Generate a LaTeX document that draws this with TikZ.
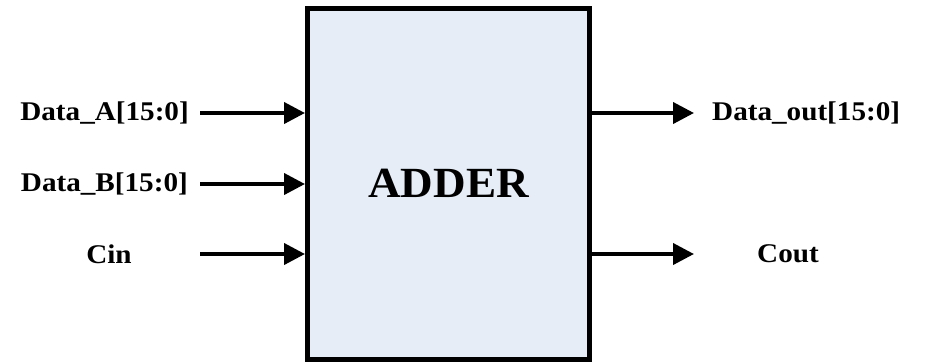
\documentclass[tikz,border=0pt]{standalone}
\usepackage{fontspec}
\setmainfont{Liberation Serif}
\newfontfamily\portfont[FakeStretch=1.08]{Liberation Serif}
\newfontfamily\blockfont[FakeStretch=1.05]{Liberation Serif}
\usetikzlibrary{arrows.meta}
\definecolor{blockfill}{RGB}{230,237,247}
\begin{document}
\begin{tikzpicture}[x=1pt,y=-1pt,
  block/.style={draw=black,line width=5pt,fill=blockfill,rectangle,
    minimum width=282pt,minimum height=351pt,inner sep=0pt,
    font=\blockfont\fontsize{43}{45}\selectfont\bfseries},
  port/.style={font=\portfont\fontsize{27}{29}\selectfont\bfseries,inner sep=0pt},
  sig/.style={line width=4pt,-{Triangle[length=21pt,width=21pt]}}]
  \useasboundingbox (0,0) rectangle (925,362);
  % adder block
  \node[block] (adder) at (448.5,183.5) {ADDER};
  % input ports
  \node[port,anchor=east] (da) at (189,113) {Data\_A[15:0]};
  \node[port,anchor=east] (db) at (188,184) {Data\_B[15:0]};
  \node[port] (cin) at (109,254) {Cin};
  \coordinate (sa) at (200,113);
  \coordinate (sb) at (200,184);
  \coordinate (sc) at (200,254);
  \draw[sig] (sa) -- (sa -| adder.west);
  \draw[sig] (sb) -- (sb -| adder.west);
  \draw[sig] (sc) -- (sc -| adder.west);
  % output ports
  \node[port,anchor=west] (dout) at (712,113) {Data\_out[15:0]};
  \node[port] (cout) at (788,254) {Cout};
  \coordinate (eo) at (694,113);
  \coordinate (ec) at (694,254);
  \draw[sig] (eo -| adder.east) -- (eo);
  \draw[sig] (ec -| adder.east) -- (ec);
\end{tikzpicture}
\end{document}
